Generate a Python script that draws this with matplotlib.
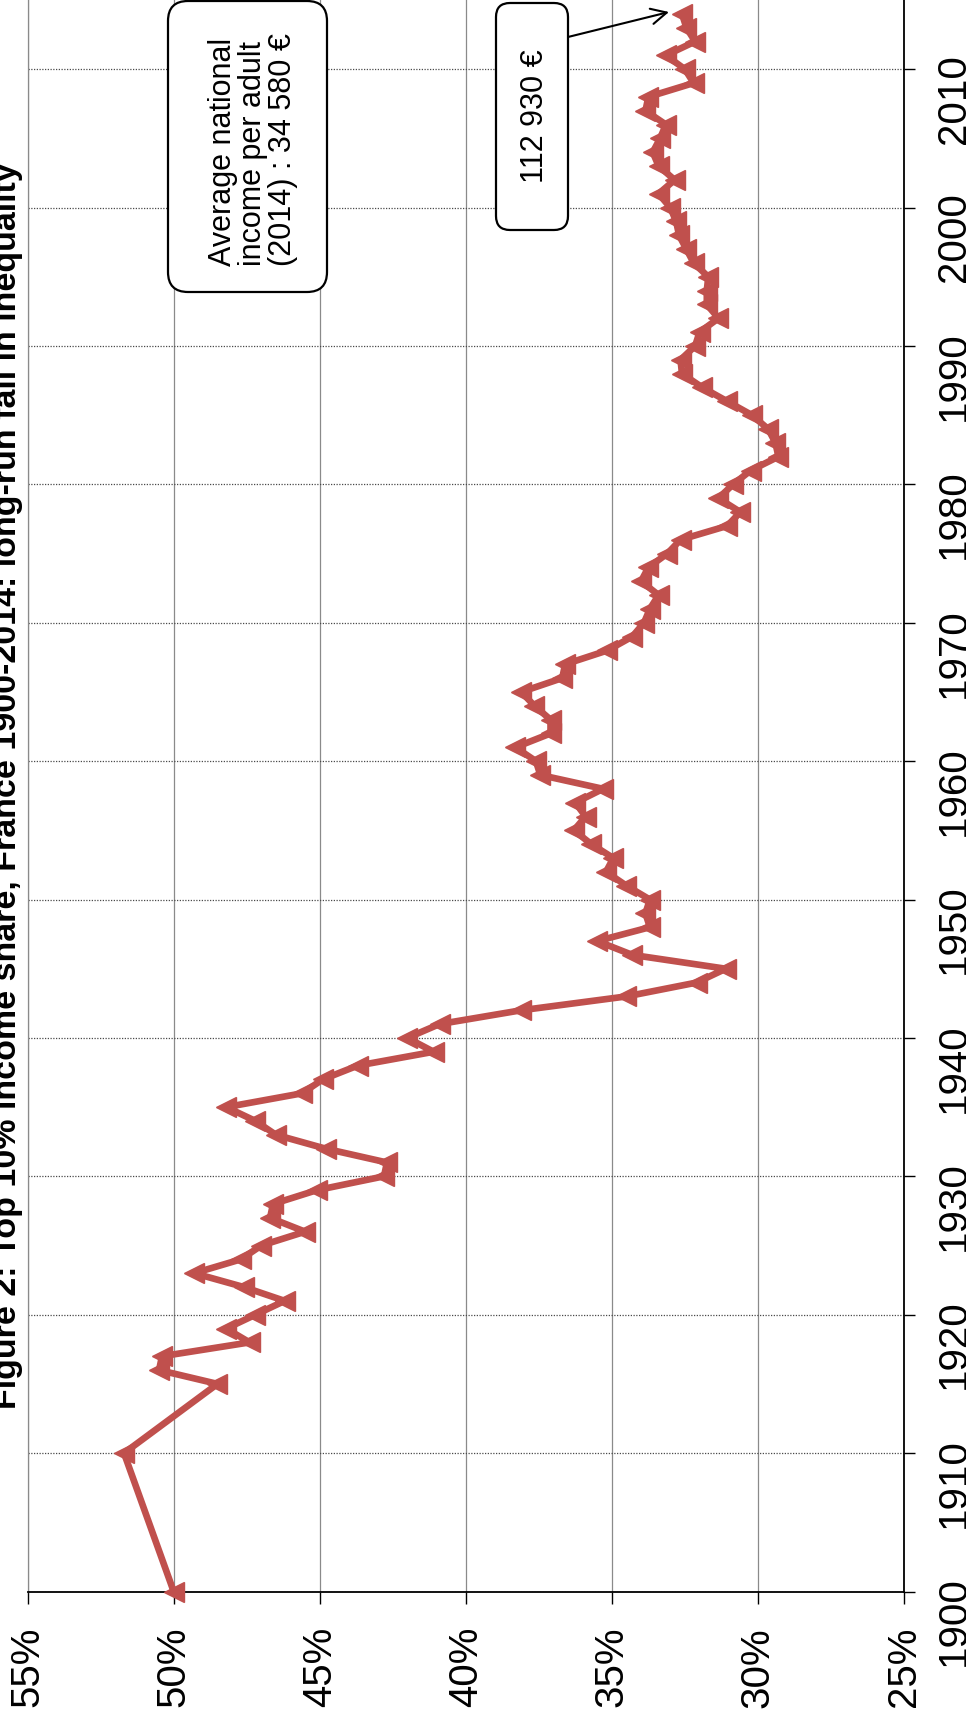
import matplotlib
matplotlib.use("Agg")
import matplotlib.pyplot as plt
from matplotlib.patches import FancyBboxPatch
from matplotlib import font_manager

# ---------------- data ----------------
years = [1900, 1910, 1915, 1916, 1917, 1918, 1919,
         1920, 1921, 1922, 1923, 1924, 1925, 1926, 1927, 1928, 1929,
         1930, 1931, 1932, 1933, 1934, 1935, 1936, 1937, 1938, 1939,
         1940, 1941, 1942, 1943, 1944, 1945, 1946, 1947, 1948, 1949,
         1950, 1951, 1952, 1953, 1954, 1955, 1956, 1957, 1958, 1959,
         1960, 1961, 1962, 1963, 1964, 1965, 1966, 1967, 1968, 1969,
         1970, 1971, 1972, 1973, 1974, 1975, 1976, 1977, 1978, 1979,
         1980, 1981, 1982, 1983, 1984, 1985, 1986, 1987, 1988, 1989,
         1990, 1991, 1992, 1993, 1994, 1995, 1996, 1997, 1998, 1999,
         2000, 2001, 2002, 2003, 2004, 2005, 2006, 2007, 2008, 2009,
         2010, 2011, 2012, 2013, 2014]
top10_share = [50.0, 51.7, 48.5, 50.5, 50.4, 47.4, 48.2,
               47.2, 46.2, 47.6, 49.3, 47.7, 47.0, 45.5, 46.7, 46.6, 45.1,
               42.8, 42.7, 44.8, 46.5, 47.2, 48.2, 45.6, 44.9, 43.7, 41.1,
               42.0, 40.9, 38.1, 34.5, 32.1, 31.1, 34.3, 35.5, 33.7, 33.85,
               33.7, 34.5, 35.2, 34.95, 35.7, 36.3, 35.9, 36.25, 35.3, 37.45,
               37.6, 38.3, 37.1, 37.1, 37.65, 38.1, 36.7, 36.6, 35.15, 34.3,
               33.9, 33.7, 33.4, 34.0, 33.75, 33.1, 32.65, 31.05, 30.6, 31.35,
               30.85, 30.25, 29.3, 29.4, 29.65, 30.2, 31.05, 31.9, 32.6, 32.65,
               32.15, 32.0, 31.35, 31.75, 31.75, 31.7, 32.2, 32.45, 32.7, 32.8,
               33.0, 33.4, 32.85, 33.4, 33.6, 33.35, 33.15, 33.85, 33.75, 32.2,
               32.5, 33.15, 32.15, 32.45, 32.6]

pct_ticks = [55, 50, 45, 40, 35, 30, 25]
pct_labels = ["55%", "50%", "45%", "40%", "35%", "30%", "25%"]
year_ticks = [1900, 1910, 1920, 1930, 1940, 1950, 1960, 1970, 1980, 1990, 2000, 2010]
year_labels = [str(y) for y in year_ticks]

title = "Figure 2: Top 10% income share, France 1900-2014: long-run fall in inequality"
box1_text = "Average national\nincome per adult\n(2014) : 34 580 \u20ac"
box2_text = "112 930 \u20ac"

# ---------------- fonts ----------------
installed = {f.name for f in font_manager.fontManager.ttflist}
if "Liberation Sans Narrow" in installed:
    fam = "Liberation Sans Narrow"
    tick_fs, box_fs, lsp = 34, 26, 0.9
else:
    fam = "Liberation Sans"
    tick_fs, box_fs, lsp = 29, 22, 1.0
plt.rcParams["font.family"] = [fam, "Liberation Sans", "DejaVu Sans"]

# ---------------- figure ----------------
W, H = 966, 1720
fig = plt.figure(figsize=(W / 100, H / 100), dpi=100)
fig.patch.set_facecolor("white")

x_left, x_right, y_bottom = 27.6, 904.0, 1591.5
ax = fig.add_axes([x_left / W, (H - y_bottom) / H, (x_right - x_left) / W, y_bottom / H])

red = "#C0504D"
ax.plot(top10_share, years, color=red, lw=4.8, marker="<", ms=14,
        mfc=red, mec=red, mew=1, zorder=3, clip_on=False)

ax.set_xlim(55, 25)
ax.set_ylim(1900, 2015)

ax.set_xticks(pct_ticks)
ax.set_xticklabels(pct_labels, rotation=90)
ax.set_yticks(year_ticks)
ax.set_yticklabels(year_labels)
ax.yaxis.tick_right()
ax.tick_params(axis="y", labelrotation=90, length=8, width=1, pad=14,
               labelsize=tick_fs, colors="black", left=False, right=True)
ax.tick_params(axis="x", length=8.5, width=1, pad=17, labelsize=tick_fs, colors="black")

ax.grid(axis="x", color="#8a8a8a", lw=0.9, ls="-", zorder=0)
ax.grid(axis="y", color="#4a4a4a", lw=0.9, ls=(0, (1, 1.2)), zorder=0)
ax.set_axisbelow(True)

ax.spines["top"].set_visible(False)
ax.spines["left"].set_color("#8a8a8a")
ax.spines["left"].set_linewidth(0.9)
ax.spines["right"].set_color("black")
ax.spines["right"].set_linewidth(1.3)
ax.spines["bottom"].set_color("black")
ax.spines["bottom"].set_linewidth(1.3)

# ---------------- overlay (pixel coordinates) ----------------
ov = fig.add_axes([0, 0, 1, 1], zorder=5)
ov.set_xlim(0, W)
ov.set_ylim(H, 0)
ov.axis("off")
ov.patch.set_alpha(0)

# title (partially cut off on the left edge)
t = ov.text(16, 786, title, rotation=90, rotation_mode="anchor",
            ha="center", va="baseline", fontsize=24, fontweight="bold", color="black")
fig.canvas.draw()
ext = t.get_window_extent()
t.set_fontsize(24 * 1253.0 / ext.height)

# box 1
ov.add_patch(FancyBboxPatch((168, 1), 159, 291,
                            boxstyle="round,pad=0,rounding_size=20",
                            fc="white", ec="black", lw=1.6, zorder=6))
ov.text(253, 266, box1_text, rotation=90, rotation_mode="anchor",
        ha="left", va="center", multialignment="left", fontsize=box_fs,
        linespacing=lsp, zorder=7)

# box 2
ov.add_patch(FancyBboxPatch((496, 3), 72, 227,
                            boxstyle="round,pad=0,rounding_size=14",
                            fc="white", ec="black", lw=1.6, zorder=6))
ov.text(535, 116, box2_text, rotation=90, rotation_mode="anchor",
        ha="center", va="center", fontsize=box_fs, zorder=7)

ov.annotate("", xy=(669, 12), xytext=(568, 37),
            arrowprops=dict(arrowstyle="->", color="black", lw=1.5,
                            mutation_scale=28, shrinkA=0, shrinkB=0), zorder=7)

fig.savefig("out.png", dpi=100, facecolor="white")
